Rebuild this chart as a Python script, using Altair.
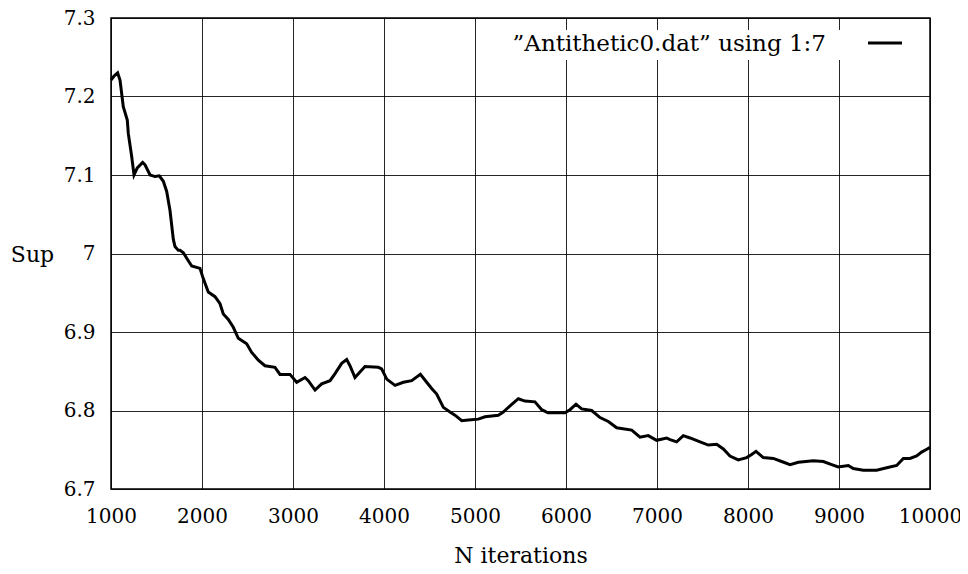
import altair as alt
import pandas as pd

iterations = [1000, 1033, 1073, 1099, 1135, 1179, 1190, 1227, 1253, 1289, 1348, 1374, 1429, 1484,
              1531, 1575, 1612, 1648, 1685, 1703, 1740, 1758, 1795, 1832, 1887, 1978, 2014, 2069,
              2143, 2198, 2234, 2289, 2344, 2399, 2491, 2546, 2619, 2692, 2802, 2857, 2967, 3040,
              3132, 3168, 3242, 3315, 3407, 3462, 3535, 3590, 3626, 3681, 3736, 3791, 3938, 3974,
              4030, 4121, 4213, 4304, 4400, 4469, 4524, 4579, 4652, 4725, 4780, 4854, 4927, 5036,
              5110, 5256, 5311, 5385, 5476, 5549, 5659, 5733, 5802, 5898, 5989, 6044, 6110, 6172,
              6282, 6374, 6465, 6557, 6722, 6813, 6904, 6996, 7106, 7143, 7216, 7289, 7363, 7473,
              7564, 7656, 7729, 7802, 7893, 7985, 8040, 8088, 8168, 8278, 8370, 8462, 8553, 8718,
              8828, 8919, 8992, 9102, 9157, 9267, 9414, 9524, 9634, 9707, 9780, 9853, 9908, 9970,
              10000]
sup_values = [7.221, 7.226, 7.230, 7.221, 7.187, 7.170, 7.153, 7.124, 7.100, 7.109, 7.116, 7.113,
              7.100, 7.098, 7.099, 7.092, 7.079, 7.055, 7.018, 7.009, 7.004, 7.004, 7.001, 6.994,
              6.984, 6.981, 6.968, 6.951, 6.945, 6.936, 6.923, 6.916, 6.906, 6.892, 6.885, 6.874,
              6.864, 6.857, 6.855, 6.846, 6.846, 6.836, 6.842, 6.838, 6.826, 6.834, 6.838, 6.847,
              6.860, 6.865, 6.857, 6.842, 6.849, 6.856, 6.855, 6.853, 6.840, 6.832, 6.836, 6.838,
              6.846, 6.836, 6.828, 6.821, 6.804, 6.798, 6.794, 6.787, 6.788, 6.789, 6.792, 6.794,
              6.798, 6.806, 6.815, 6.812, 6.811, 6.801, 6.797, 6.797, 6.797, 6.801, 6.808, 6.802,
              6.800, 6.791, 6.786, 6.778, 6.775, 6.766, 6.768, 6.762, 6.765, 6.763, 6.760, 6.768,
              6.765, 6.760, 6.756, 6.757, 6.751, 6.742, 6.737, 6.740, 6.744, 6.748, 6.740, 6.739,
              6.735, 6.731, 6.734, 6.736, 6.735, 6.731, 6.728, 6.730, 6.726, 6.724, 6.724, 6.727,
              6.730, 6.739, 6.739, 6.742, 6.747, 6.751, 6.753]
x_ticks = [1000, 2000, 3000, 4000, 5000, 6000, 7000, 8000, 9000, 10000]
y_ticks = [6.7, 6.8, 6.9, 7.0, 7.1, 7.2, 7.3]
legend_label = "\u201dAntithetic0.dat\u201d using 1:7"
x_title = "N iterations"
y_title = "Sup"

FONT = "DejaVu Serif"
FS_TICK = 20
FS_TITLE = 22
FS_LEG = 23

df = pd.DataFrame({"n": iterations, "sup": sup_values})

line = alt.Chart(df).mark_line(color="black", strokeWidth=3).encode(
    x=alt.X("n:Q",
            scale=alt.Scale(domain=[1000, 10000], nice=False, zero=False),
            axis=alt.Axis(values=x_ticks, format="d", title=x_title, ticks=False,
                          domain=False, labelPadding=27, labelBaseline="middle",
                          titleY=66, titleBaseline="middle", labelFlush=False)),
    y=alt.Y("sup:Q",
            scale=alt.Scale(domain=[6.7, 7.3], nice=False, zero=False),
            axis=alt.Axis(values=y_ticks, format="~g", title=y_title, ticks=False,
                          domain=False, labelPadding=16, titleAngle=0, titleX=-79,
                          titleY=236, titleAlign="center", titleBaseline="middle",
                          labelFlush=False)),
)

leg_df = pd.DataFrame({"label": [legend_label]})
leg_bg = alt.Chart(leg_df).mark_rect(fill="white").encode(
    x=alt.value(387), x2=alt.value(801), y=alt.value(12), y2=alt.value(42))
leg_text = alt.Chart(leg_df).mark_text(align="right", baseline="middle", font=FONT,
                                       fontSize=FS_LEG, color="black").encode(
    x=alt.value(715), y=alt.value(26), text="label:N")
leg_rule = alt.Chart(leg_df).mark_rule(color="black", strokeWidth=3).encode(
    x=alt.value(757), x2=alt.value(791), y=alt.value(25))

chart = alt.layer(line, leg_bg, leg_text, leg_rule).properties(
    width=819, height=471,
    padding={"left": 103, "top": 10, "right": 30, "bottom": 77},
    autosize=alt.AutoSizeParams(type="none"),
    background="white",
).configure_view(stroke="black", strokeWidth=1.5).configure_axis(
    grid=True, gridColor="black", gridOpacity=0.85, gridWidth=1,
    labelFont=FONT, labelFontSize=FS_TICK, labelColor="black",
    titleFont=FONT, titleFontSize=FS_TITLE, titleColor="black", titleFontWeight="normal",
)

chart.save("out.html", embed_options={"renderer": "svg", "actions": False})
